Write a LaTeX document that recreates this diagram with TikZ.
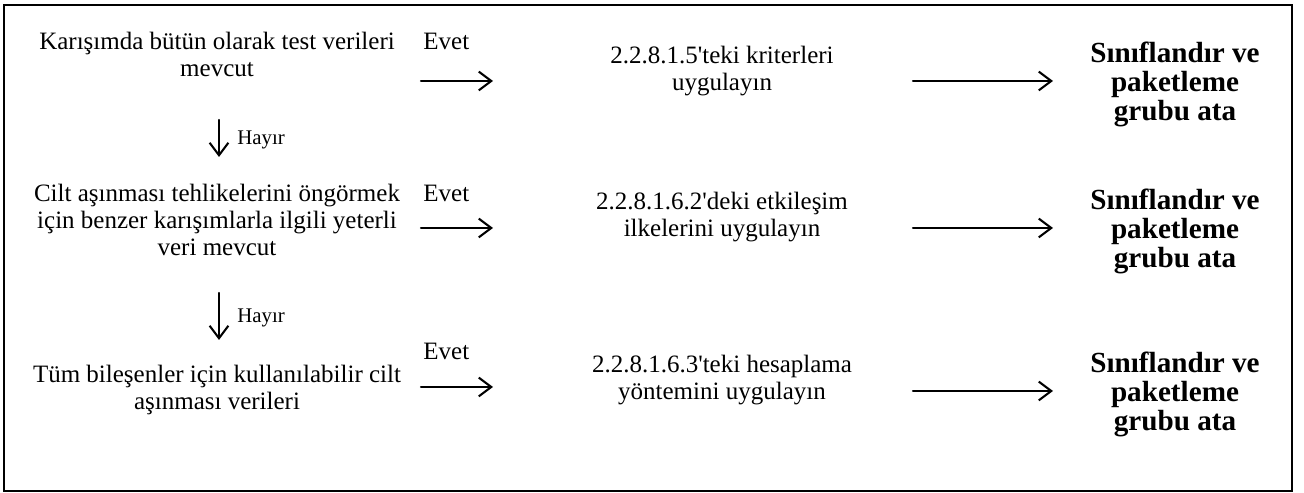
\documentclass[tikz,border=0pt]{standalone}
\usepackage{fontspec}
\setmainfont{Liberation Serif}
\usetikzlibrary{arrows.meta}

\begin{document}
\begin{tikzpicture}
[x=0.48pt,y=-0.48pt,line cap=round,
% Styles
question text/.style={inner sep=0pt,anchor=base,align=center,font=\fontsize{12}{13}\selectfont},
answer text/.style={inner sep=0pt,anchor=base west,font=\fontsize{12}{13}\selectfont},
no text/.style={inner sep=0pt,anchor=base west,font=\fontsize{10}{12}\selectfont},
result text/.style={inner sep=0pt,anchor=base,align=center,font=\fontsize{14}{14}\selectfont\bfseries},
flow arrow/.style={line width=1pt,-{Straight Barb[length=6pt,width=9pt]}}]
% The frame
\useasboundingbox (0,0) rectangle (1304,493);
\draw[line width=1pt] (4,5) rectangle (1292,491);
% Questions (base = last line)
\node[question text] (test) at (217,77) {Karışımda bütün olarak test verileri\\mevcut};
\node[question text] (similar) at (217,256) {Cilt aşınması tehlikelerini öngörmek\\için benzer karışımlarla ilgili yeterli\\veri mevcut};
\node[question text] (comp) at (217,410) {Tüm bileşenler için kullanılabilir cilt\\aşınması verileri};
% Methods
\node[question text] (crit) at (722,91) {2.2.8.1.5\textquotesingle teki kriterleri\\uygulayın};
\node[question text] (bridge) at (722,237) {2.2.8.1.6.2\textquotesingle deki etkileşim\\ilkelerini uygulayın};
\node[question text] (calc) at (722,400) {2.2.8.1.6.3\textquotesingle teki hesaplama\\yöntemini uygulayın};
% Yes branches
\foreach \row/\y/\t in {1/81/50,2/228/202,3/387/360}
{
\node[answer text] (yes\row) at (423,\t) {Evet};
\coordinate (ask\row) at (421,\y);
\coordinate (act\row) at (493,\y);
\draw[flow arrow] (ask\row) -- (act\row);
}
\foreach \row/\y in {1/81,2/228,3/391}
{
\coordinate (done\row) at (913,\y);
\coordinate (put\row) at (1053,\y);
\draw[flow arrow] (done\row) -- (put\row);
\node[result text] (assign\row) at (1175,\y+40) {Sınıflandır ve\\paketleme\\grubu ata};
}
% No branches
\foreach \row/\top/\tip/\t in {1/120/157/145,2/293/340/323}
{
\coordinate (from\row) at (219,\top);
\coordinate (down\row) at (219,\tip);
\draw[flow arrow] (from\row) -- (down\row);
\node[no text] (no\row) at (237,\t) {Hayır};
}
\end{tikzpicture}
\end{document}
